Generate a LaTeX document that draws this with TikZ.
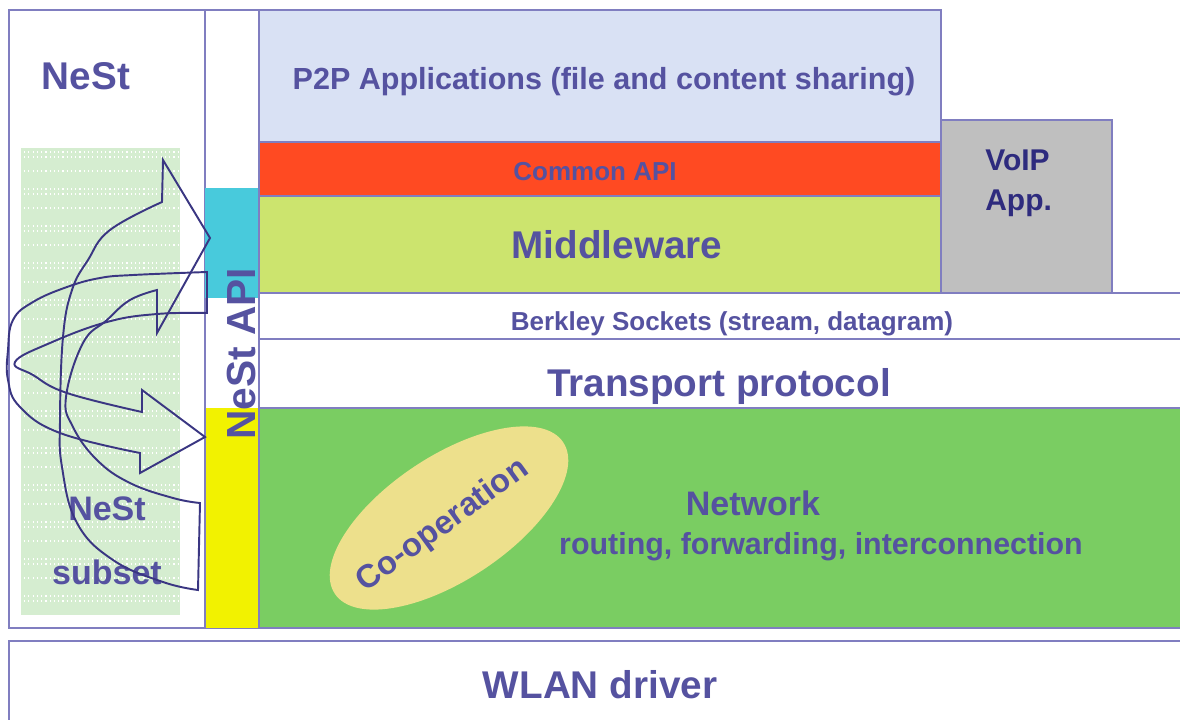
\documentclass[tikz,border=0pt]{standalone}
\usepackage{fontspec}
\setmainfont{Liberation Sans}
\definecolor{bordc}{RGB}{128,126,192}
\definecolor{txtc}{RGB}{85,82,160}
\definecolor{txtdark}{RGB}{46,43,126}
\definecolor{arrc}{RGB}{58,54,130}
\definecolor{p2pc}{RGB}{217,225,244}
\definecolor{redc}{RGB}{255,74,34}
\definecolor{midc}{RGB}{204,228,110}
\definecolor{grayc}{RGB}{191,191,191}
\definecolor{netc}{RGB}{122,205,98}
\definecolor{cyanc}{RGB}{72,202,220}
\definecolor{yelc}{RGB}{242,242,0}
\definecolor{dotbg}{RGB}{213,237,208}
\definecolor{coopc}{RGB}{237,224,140}
\tikzset{
  lay/.style={draw=bordc, line width=1.1pt},
  lbl/.style={text=txtc, font=\bfseries\fontsize{#1}{#1}\selectfont, anchor=base, inner sep=0pt},
  barrow/.style={draw=arrc, line width=1.45pt, line join=miter},
}
\begin{document}
\begin{tikzpicture}[x=0.75pt, y=-0.75pt]
\useasboundingbox (0,0) rectangle (1180,720);
\clip (0,0) rectangle (1180,720);
\fill[white] (0,0) rectangle (1180,720);
% left NeSt box
\draw[lay, fill=white] (9,10) rectangle (205,628);
% dotted green area
\fill[dotbg] (21,148) rectangle (180,615);
\foreach \yy in {152,157,171,189,194,208,226,231,245,263,268,282,300,305,319,337,342,356,374,379,393,411,416,430,448,453,467,485,490,504,522,527,541,559,564,578,596,601}
  \draw[white, line width=0.9pt, dash pattern=on 0.9pt off 2.3pt] (24,\yy) -- (178,\yy);
% NeSt API column
\draw[lay, fill=white] (205,10) rectangle (259,628);
\fill[cyanc] (205,188) rectangle (259,298);
\fill[yelc] (205,408) rectangle (259,628);
\draw[lay] (205,408) -- (205,628);
% stack
\draw[lay, fill=p2pc] (259,10) rectangle (941,142);
\draw[lay, fill=redc] (259,142) rectangle (941,196);
\draw[lay, fill=midc] (259,196) rectangle (941,293);
\draw[lay, fill=grayc] (941,120) rectangle (1112,293);
\draw[lay, fill=white] (259,293) rectangle (1195,339);
\draw[lay, fill=white] (259,339) rectangle (1195,408);
\draw[lay, fill=netc] (259,408) rectangle (1195,628);
\draw[lay, fill=white] (9,641) rectangle (1195,735);
% co-operation ellipse
\fill[coopc, rotate around={33.5:(449,518)}] (449,518) ellipse [x radius=137, y radius=62];
% labels
\node[lbl=29pt] (nest) at (86,90) {NeSt};
\node[lbl=22.9pt] (p2p) at (604,90) {P2P Applications (file and content sharing)};
\node[lbl=19.5pt] (capi) at (595,181) {Common API};
\node[lbl=29pt] (mw) at (617,258) {Middleware};
\node[lbl=22.5pt, text=txtdark, anchor=base west] (voip) at (985,171) {VoIP};
\node[lbl=22.5pt, text=txtdark, anchor=base west] (app) at (985,211) {App.};
\node[lbl=19.5pt] (bsock) at (732,330) {Berkley Sockets (stream, datagram)};
\node[lbl=29pt] (tp) at (719,396) {Transport protocol};
\node[lbl=25.5pt] (net) at (753,515) {Network};
\node[lbl=22.8pt] (rout) at (821,554) {routing, forwarding, interconnection};
\node[lbl=29pt] (wlan) at (600,698) {WLAN driver};
\node[lbl=25.5pt] (sub1) at (107,520) {NeSt};
\node[lbl=25.5pt] (sub2) at (107,584) {subset};
\node[lbl=30.5pt, anchor=center, rotate=90] (napi) at (241,354) {NeSt API};
\node[lbl=24.5pt, anchor=center, rotate=36] (coop) at (443,526) {Co-operation};
% curved block arrows
\draw[barrow] (200,503) -- (198,590)
  -- plot[smooth, tension=0.7] coordinates {(198,590) (163,582) (113,560) (77,523) (62,467) (60,420) (63,337) (72,290) (88,260) (110,230) (162,202)}
  -- (163,160) -- (210,238) -- (157,333) -- (157,290)
  -- plot[smooth, tension=0.7] coordinates {(157,290) (130,300) (107,320) (83,343) (66,397) (73,427) (97,460) (130,483) (173,498) (200,503)}
  -- cycle;
\draw[barrow] (207,272) -- (207,313)
  -- plot[smooth, tension=0.7] coordinates {(207,313) (157,314) (107,322) (50,343) (15,362) (33,375) (67,393) (142,412)}
  -- (142,390) -- (205,437) -- (140,473) -- (140,453)
  -- plot[smooth, tension=0.7] coordinates {(140,453) (60,433) (20,407) (8,380) (8,350) (13,320) (33,302) (67,287) (100,278) (133,275) (207,272)}
  -- cycle;
\end{tikzpicture}
\end{document}
